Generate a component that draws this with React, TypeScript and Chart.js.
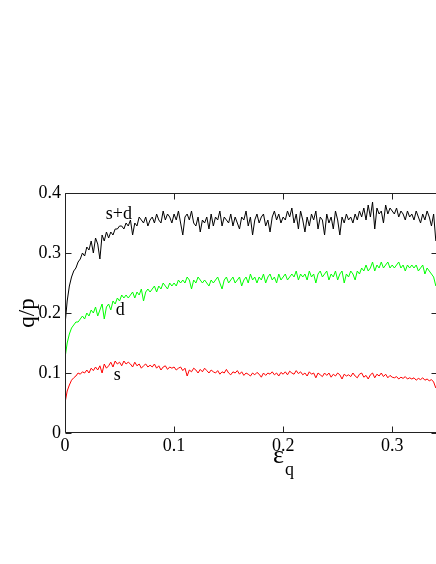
import React, { useEffect, useRef } from "react";
import { Chart, registerables } from "chart.js";

Chart.register(...registerables);

// x step between samples of epsilon_q
const EPS_STEP = 0.002;

// s+d (black)
const SD = [
  0.18, 0.22, 0.245, 0.26, 0.27, 0.275, 0.285, 0.29, 0.30, 0.295,
  0.31, 0.305, 0.32, 0.30, 0.325, 0.315, 0.29, 0.33, 0.32, 0.335,
  0.325, 0.335, 0.33, 0.34, 0.34, 0.345, 0.345, 0.34, 0.35, 0.345,
  0.355, 0.33, 0.35, 0.345, 0.36, 0.355, 0.35, 0.36, 0.345, 0.355,
  0.36, 0.35, 0.365, 0.355, 0.35, 0.37, 0.355, 0.365, 0.36, 0.35,
  0.365, 0.355, 0.37, 0.35, 0.33, 0.36, 0.365, 0.355, 0.37, 0.35,
  0.345, 0.36, 0.335, 0.355, 0.35, 0.36, 0.34, 0.365, 0.345, 0.36,
  0.355, 0.37, 0.345, 0.36, 0.355, 0.35, 0.365, 0.345, 0.36, 0.35,
  0.34, 0.36, 0.355, 0.37, 0.345, 0.36, 0.33, 0.355, 0.365, 0.35,
  0.36, 0.365, 0.345, 0.355, 0.335, 0.36, 0.37, 0.355, 0.365, 0.35,
  0.36, 0.355, 0.37, 0.36, 0.375, 0.35, 0.365, 0.34, 0.37, 0.355,
  0.335, 0.36, 0.345, 0.365, 0.355, 0.37, 0.34, 0.36, 0.355, 0.33,
  0.365, 0.35, 0.36, 0.34, 0.37, 0.355, 0.33, 0.36, 0.35, 0.365,
  0.355, 0.36, 0.35, 0.365, 0.355, 0.37, 0.36, 0.375, 0.355, 0.38,
  0.36, 0.385, 0.34, 0.375, 0.365, 0.37, 0.35, 0.38, 0.365, 0.375,
  0.37, 0.365, 0.375, 0.36, 0.37, 0.365, 0.355, 0.37, 0.36, 0.365,
  0.355, 0.37, 0.36, 0.35, 0.365, 0.355, 0.37, 0.36, 0.345, 0.365,
  0.32,
];

// d (green)
const D = [
  0.125, 0.15, 0.165, 0.175, 0.18, 0.185, 0.185, 0.19, 0.195, 0.19,
  0.2, 0.195, 0.205, 0.2, 0.21, 0.195, 0.205, 0.215, 0.19, 0.21,
  0.215, 0.205, 0.22, 0.215, 0.225, 0.22, 0.23, 0.225, 0.23, 0.225,
  0.23, 0.235, 0.225, 0.235, 0.23, 0.24, 0.22, 0.235, 0.24, 0.235,
  0.24, 0.245, 0.235, 0.245, 0.24, 0.25, 0.245, 0.24, 0.25, 0.245,
  0.25, 0.245, 0.255, 0.25, 0.255, 0.25, 0.26, 0.255, 0.24, 0.255,
  0.25, 0.26, 0.255, 0.25, 0.255, 0.25, 0.245, 0.255, 0.25, 0.255,
  0.26, 0.25, 0.24, 0.255, 0.26, 0.25, 0.255, 0.26, 0.25, 0.255,
  0.26, 0.245, 0.255, 0.26, 0.25, 0.265, 0.255, 0.26, 0.25, 0.26,
  0.255, 0.265, 0.25, 0.26, 0.265, 0.255, 0.26, 0.25, 0.265, 0.255,
  0.26, 0.265, 0.255, 0.26, 0.265, 0.26, 0.27, 0.255, 0.265, 0.26,
  0.265, 0.255, 0.27, 0.26, 0.265, 0.25, 0.265, 0.27, 0.26, 0.265,
  0.27, 0.255, 0.265, 0.26, 0.27, 0.255, 0.265, 0.27, 0.25, 0.265,
  0.26, 0.27, 0.265, 0.255, 0.27, 0.265, 0.275, 0.27, 0.28, 0.27,
  0.275, 0.285, 0.27, 0.28, 0.275, 0.285, 0.275, 0.28, 0.285, 0.275,
  0.28, 0.275, 0.28, 0.285, 0.275, 0.28, 0.27, 0.28, 0.275, 0.28,
  0.275, 0.28, 0.27, 0.275, 0.28, 0.265, 0.275, 0.27, 0.265, 0.26,
  0.245,
];

// s (red)
const S = [
  0.05, 0.07, 0.08, 0.088, 0.092, 0.095, 0.1, 0.098, 0.102, 0.1,
  0.105, 0.1, 0.108, 0.104, 0.11, 0.105, 0.112, 0.1, 0.115, 0.108,
  0.112, 0.118, 0.11, 0.12, 0.115, 0.118, 0.112, 0.12, 0.115, 0.118,
  0.115, 0.11, 0.118, 0.112, 0.115, 0.108, 0.112, 0.115, 0.11, 0.113,
  0.11, 0.115, 0.108, 0.112, 0.105, 0.11, 0.112, 0.106, 0.11, 0.108,
  0.11, 0.105, 0.108, 0.11, 0.104, 0.108, 0.095, 0.105, 0.102, 0.108,
  0.105, 0.1, 0.106, 0.102, 0.108, 0.104, 0.1, 0.105, 0.102, 0.1,
  0.104, 0.098, 0.102, 0.1, 0.106, 0.1, 0.097, 0.102, 0.1, 0.104,
  0.098, 0.102, 0.096, 0.1, 0.098, 0.095, 0.1, 0.097, 0.101, 0.098,
  0.093, 0.1, 0.096, 0.1, 0.098, 0.102, 0.097, 0.1, 0.095, 0.101,
  0.098, 0.102, 0.097, 0.103, 0.1, 0.098, 0.104, 0.099, 0.102, 0.097,
  0.1, 0.095, 0.102, 0.098, 0.1, 0.092, 0.1, 0.097, 0.094, 0.1,
  0.096, 0.1, 0.093, 0.098, 0.095, 0.1, 0.097, 0.09, 0.098, 0.095,
  0.097, 0.094, 0.1, 0.095, 0.092, 0.098, 0.1, 0.093, 0.096, 0.09,
  0.097, 0.1, 0.092, 0.098, 0.095, 0.1, 0.094, 0.098, 0.092, 0.096,
  0.093, 0.092, 0.094, 0.09, 0.093, 0.091, 0.094, 0.09, 0.092, 0.09,
  0.092, 0.088, 0.091, 0.089, 0.092, 0.088, 0.09, 0.087, 0.089, 0.085,
  0.075,
];

const X_TICKS = [0, 0.1, 0.2, 0.3];
const X_TICK_LABELS = ["0", "0.1", "0.2", "0.3"];
const Y_TICKS = [0, 0.1, 0.2, 0.3, 0.4];
const Y_TICK_LABELS = ["0", "0.1", "0.2", "0.3", "0.4"];

// curve labels: [text, x, y(baseline)] in data units
const CURVE_LABELS: [string, number, number][] = [
  ["s+d", 0.0374, 0.357],
  ["d", 0.0466, 0.196],
  ["s", 0.0447, 0.088],
];

const FONT = "'Liberation Serif', 'DejaVu Serif', serif";

const framePlugin = {
  id: "frame",
  afterDraw(chart: any) {
    const { ctx, chartArea } = chart;
    const xs = chart.scales.x;
    const ys = chart.scales.y;
    const L = Math.round(chartArea.left) + 0.5;
    const R = Math.round(chartArea.right) - 0.5;
    const T = Math.round(chartArea.top) + 0.5;
    const B = Math.round(chartArea.bottom) - 0.5;
    const TL = 6;
    ctx.save();
    ctx.strokeStyle = "#222";
    ctx.lineWidth = 1;
    ctx.beginPath();
    ctx.rect(L, T, R - L, B - T);
    X_TICKS.forEach((v) => {
      const px = Math.round(xs.getPixelForValue(v)) + 0.5;
      ctx.moveTo(px, B);
      ctx.lineTo(px, B - TL);
      ctx.moveTo(px, T);
      ctx.lineTo(px, T + TL);
    });
    Y_TICKS.forEach((v) => {
      const py = Math.round(ys.getPixelForValue(v)) + 0.5;
      ctx.moveTo(L, py);
      ctx.lineTo(L + TL, py);
      ctx.moveTo(R, py);
      ctx.lineTo(R - TL, py);
    });
    ctx.stroke();

    // curve labels
    ctx.fillStyle = "#000";
    ctx.font = `18px ${FONT}`;
    ctx.textAlign = "left";
    ctx.textBaseline = "alphabetic";
    CURVE_LABELS.forEach(([t, x, y]) => {
      ctx.fillText(t, xs.getPixelForValue(x), ys.getPixelForValue(y));
    });

    // x-axis title: epsilon with subscript q
    ctx.font = `26px ${FONT}`;
    ctx.fillText("ε", 273, 463);
    ctx.font = `18px ${FONT}`;
    ctx.fillText("q", 285, 475);
    ctx.restore();
  },
};

export default function App() {
  const ref = useRef<HTMLCanvasElement | null>(null);

  useEffect(() => {
    if (!ref.current) return;
    const toPts = (arr: number[]) =>
      arr.map((v, i) => ({ x: +(i * EPS_STEP).toFixed(4), y: v }));
    const chart = new Chart(ref.current, {
      type: "line",
      data: {
        datasets: [
          { label: "s+d", data: toPts(SD), borderColor: "#000000", borderWidth: 1, pointRadius: 0, tension: 0, fill: false },
          { label: "d", data: toPts(D), borderColor: "#00ff00", borderWidth: 1, pointRadius: 0, tension: 0, fill: false },
          { label: "s", data: toPts(S), borderColor: "#ff0000", borderWidth: 1, pointRadius: 0, tension: 0, fill: false },
        ],
      },
      options: {
        animation: false,
        responsive: false,
        maintainAspectRatio: false,
        layout: { padding: { left: 0, right: 2, top: 193, bottom: 71 } },
        plugins: { legend: { display: false }, tooltip: { enabled: false }, title: { display: false } },
        scales: {
          x: {
            type: "linear",
            min: 0,
            max: 0.342,
            grid: { display: false, drawTicks: false },
            border: { display: false },
            afterBuildTicks: (s: any) => {
              s.ticks = X_TICKS.map((v) => ({ value: v }));
            },
            afterFit: (s: any) => {
              s.height = 60;
            },
            ticks: {
              padding: 2,
              maxRotation: 0,
              autoSkip: false,
              color: "#000",
              font: { family: FONT, size: 18 },
              callback: (v: any) => {
                const i = X_TICKS.findIndex((t) => Math.abs(t - v) < 1e-9);
                return i >= 0 ? X_TICK_LABELS[i] : "";
              },
            },
          },
          y: {
            type: "linear",
            min: 0,
            max: 0.4,
            grid: { display: false, drawTicks: false },
            border: { display: false },
            afterBuildTicks: (s: any) => {
              s.ticks = Y_TICKS.map((v) => ({ value: v }));
            },
            afterFit: (s: any) => {
              s.width = 65;
            },
            title: {
              display: true,
              text: "q/p",
              color: "#000",
              font: { family: FONT, size: 23 },
              padding: { top: 14, bottom: 0 },
            },
            ticks: {
              padding: 4,
              autoSkip: false,
              color: "#000",
              font: { family: FONT, size: 18 },
              callback: (v: any) => {
                const i = Y_TICKS.findIndex((t) => Math.abs(t - v) < 1e-9);
                return i >= 0 ? Y_TICK_LABELS[i] : "";
              },
            },
          },
        },
      },
      plugins: [framePlugin],
    });
    return () => chart.destroy();
  }, []);

  return (
    <div style={{ position: "absolute", left: 0, top: 0, width: 436, height: 564, overflow: "hidden", background: "#fff" }}>
      <canvas ref={ref} width={440} height={564} style={{ width: 440, height: 564, display: "block" }} />
    </div>
  );
}
